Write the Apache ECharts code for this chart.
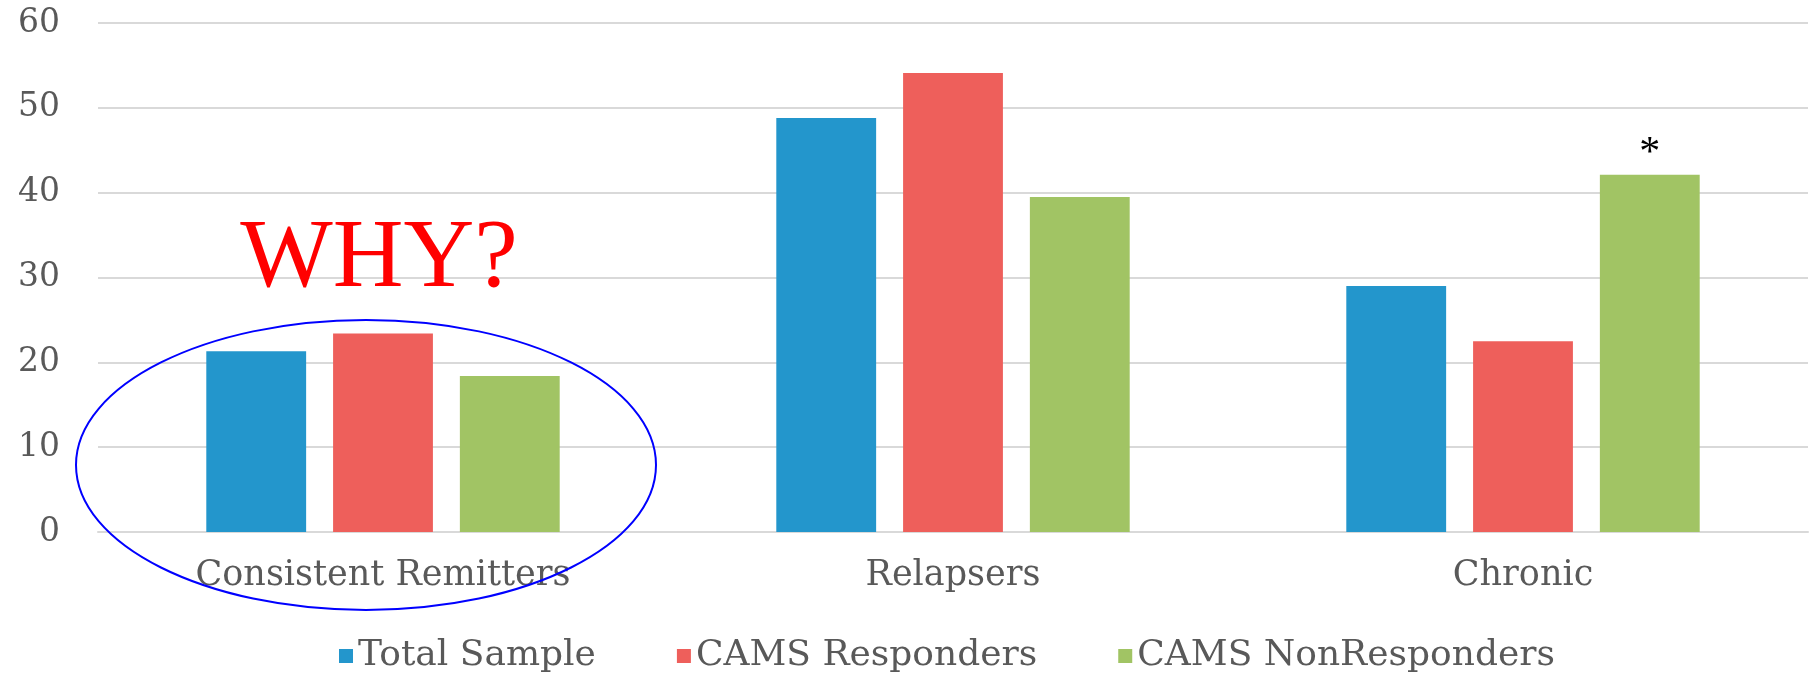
<!DOCTYPE html>
<html>
<head>
<meta charset="utf-8">
<title>Outcome groups</title>
<script src="https://cdn.jsdelivr.net/npm/echarts@6/dist/echarts.min.js"></script>
<style>
  html, body { margin: 0; padding: 0; background: #fff; }
  #chart { width: 1817px; height: 673px; }
</style>
</head>
<body>
<div id="chart"></div>
<script>
const categories = ['Consistent Remitters', 'Relapsers', 'Chronic']
const totalSample = [21.3, 48.8, 29.0]
const camsResponders = [23.4, 54.1, 22.5]
const camsNonResponders = [18.4, 39.5, 42.1]
const significance = ['', '', '*']
const yTicks = [0, 10, 20, 30, 40, 50, 60]

const serif = '"DejaVu Serif", serif'
const textColor = '#595959'

const chart = echarts.init(document.getElementById('chart'))

function barSeries(name, color, data) {
  return {
    name: name,
    type: 'bar',
    data: data,
    barGap: '27%',
    barCategoryGap: '38%',
    itemStyle: { color: color },
    animation: false
  }
}

const green = barSeries('CAMS NonResponders', '#a1c464', camsNonResponders)
green.label = {
  show: true,
  position: 'top',
  distance: 0,
  formatter: p => significance[p.dataIndex],
  color: '#000',
  fontSize: 42,
  fontFamily: '"Liberation Serif", serif'
}

chart.setOption({
  backgroundColor: '#fff',
  grid: { left: 98, right: 9, top: 23, bottom: 141, containLabel: false },
  legend: {
    left: 334,
    top: 633,
    icon: 'rect',
    itemWidth: 14,
    itemHeight: 14,
    itemGap: 81,
    textStyle: { fontFamily: serif, fontSize: 36, color: textColor }
  },
  xAxis: {
    type: 'category',
    data: categories,
    axisLine: { show: true, lineStyle: { color: '#d9d9d9', width: 2 } },
    axisTick: { show: false },
    axisLabel: { margin: 26, fontFamily: serif, fontSize: 35, color: textColor }
  },
  yAxis: {
    type: 'value',
    min: yTicks[0],
    max: yTicks[yTicks.length - 1],
    interval: 10,
    axisLine: { show: false },
    axisTick: { show: false },
    splitLine: { lineStyle: { color: '#d9d9d9', width: 2 } },
    axisLabel: { margin: 38, fontFamily: serif, fontSize: 33, color: textColor }
  },
  series: [
    barSeries('Total Sample', '#2396cc', totalSample),
    barSeries('CAMS Responders', '#ee5f5b', camsResponders),
    green
  ]
})

// annotation: "WHY?" and an ellipse around the first group
const c = chart.convertToPixel({ gridIndex: 0 }, [0, 7.9])
const t = chart.convertToPixel({ gridIndex: 0 }, [0, 32.0])
chart.setOption({
  graphic: [{
    type: 'ellipse',
    shape: { cx: c[0] - 17, cy: c[1], rx: 290, ry: 145 },
    style: { fill: null, stroke: '#0000ff', lineWidth: 2 },
    z: 100
  }, {
    type: 'text',
    x: t[0] - 4,
    y: t[1],
    style: {
      text: 'WHY?',
      fill: '#ff0000',
      font: '98px "Liberation Serif", serif',
      textAlign: 'center',
      textVerticalAlign: 'middle'
    },
    z: 100
  }]
})
</script>
</body>
</html>
